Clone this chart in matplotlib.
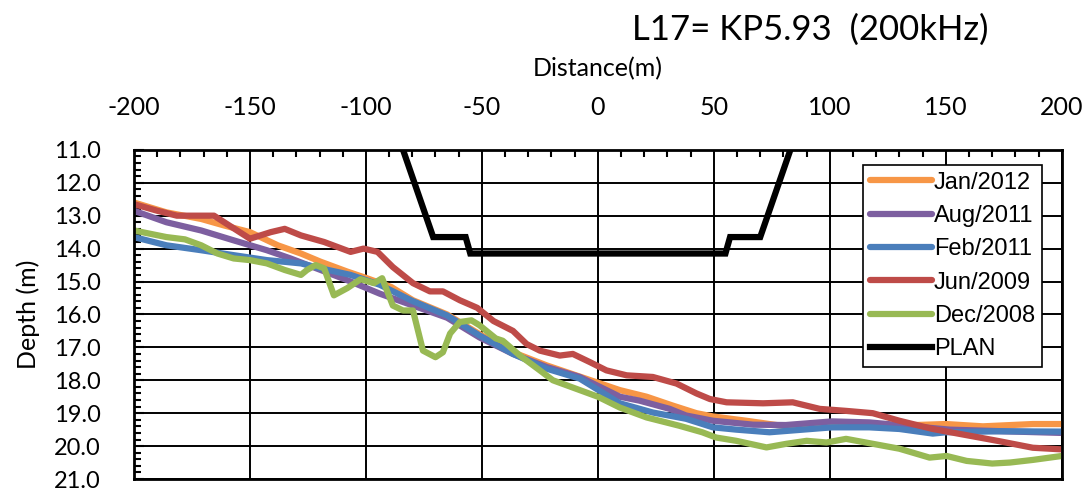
import matplotlib.pyplot as plt
from matplotlib.ticker import MultipleLocator, FormatStrFormatter

plt.rcParams['axes.unicode_minus'] = False

# survey profiles (distance m, depth m)
jan12_x = [-200, -186, -171, -161, -150, -138, -128, -119.5, -108, -99.6, -89, -79.7, -65, -51, -36.6, -22, -4.8,
           9.5, 21, 32.3, 42.5, 49.6, 64, 81, 100, 120, 150, 166, 187.5, 200]
jan12_y = [12.6, 12.9, 13.1, 13.3, 13.5, 13.9, 14.15, 14.4, 14.7, 14.9, 15.17, 15.57, 16.0, 16.6, 17.15, 17.55, 17.96,
           18.3, 18.5, 18.77, 19.0, 19.1, 19.23, 19.4, 19.4, 19.4, 19.33, 19.4, 19.33, 19.33]

aug11_x = [-200, -186, -171, -157, -142.7, -132.5, -119.5, -106.6, -94, -79.7, -65, -51, -36.6, -22, -7.8,
           9.5, 18, 31, 38, 49.6, 67, 81, 101, 117, 151.7, 175, 200]
aug11_y = [12.85, 13.2, 13.45, 13.75, 14.05, 14.3, 14.65, 15.0, 15.37, 15.73, 16.1, 16.7, 17.2, 17.6, 17.9,
           18.5, 18.62, 18.87, 19.07, 19.23, 19.35, 19.36, 19.25, 19.28, 19.5, 19.55, 19.6]

feb11_x = [-200, -186, -171, -157, -142.7, -128, -119.5, -106.6, -94, -79.7, -65, -51, -36.6, -22, -7.8,
           9.5, 23.7, 38, 49.6, 59.7, 74, 88.4, 101, 117, 130, 144.4, 150, 173, 200]
feb11_y = [13.65, 13.9, 14.05, 14.2, 14.35, 14.45, 14.6, 14.8, 15.1, 15.6, 16.03, 16.64, 17.2, 17.65, 17.95,
           18.7, 18.98, 19.17, 19.43, 19.5, 19.58, 19.5, 19.43, 19.43, 19.48, 19.62, 19.58, 19.55, 19.56]

jun09_x = [-200, -190, -181.5, -165.5, -150, -141, -135, -128, -118, -106.6, -101, -95, -88.4, -79.7, -72.4,
           -66.8, -59.5, -52, -45, -36.6, -30.7, -25, -16.4, -10.8, -3.4, 3.7, 12.4, 23.7, 33.9, 42.5, 48.3,
           55.5, 71.2, 84, 95.7, 107, 118.5, 130, 144.4, 156, 173, 187.5, 200]
jun09_y = [12.65, 12.85, 13.0, 13.0, 13.7, 13.5, 13.4, 13.6, 13.8, 14.1, 14.0, 14.1, 14.56, 15.05, 15.3,
           15.3, 15.57, 15.8, 16.2, 16.5, 16.9, 17.1, 17.25, 17.2, 17.45, 17.7, 17.85, 17.9, 18.1, 18.4, 18.57,
           18.67, 18.7, 18.67, 18.87, 18.93, 19.0, 19.23, 19.48, 19.63, 19.85, 20.05, 20.1]

dec08_x = [-200, -186, -178, -171, -164, -157, -150, -142.7, -135, -128, -125.4, -121.7, -118, -113.8, -108,
           -102.3, -96.5, -93, -88.4, -84, -79.7, -75.4, -70, -66.8, -63.7, -59.5, -54.5, -51, -44, -41, -33.6,
           -25, -19.4, 0, 9.5, 21, 35, 45, 51, 59.7, 72.7, 81.3, 90, 98.6, 107, 118.5, 130, 143, 150.3, 159,
           170, 177.6, 187.5, 200]
dec08_y = [13.45, 13.65, 13.72, 13.9, 14.15, 14.3, 14.35, 14.45, 14.65, 14.8, 14.65, 14.5, 14.6, 15.42, 15.2,
           14.93, 15.05, 14.9, 15.73, 15.88, 15.88, 17.1, 17.3, 17.15, 16.58, 16.23, 16.18, 16.33, 16.73, 16.8, 17.25,
           17.7, 18.0, 18.5, 18.83, 19.13, 19.38, 19.58, 19.74, 19.84, 20.04, 19.93, 19.84, 19.89, 19.78, 19.93, 20.08,
           20.35, 20.3, 20.45, 20.53, 20.5, 20.42, 20.3]

plan_x = [-84, -71, -57, -55, 55, 57, 70, 83]
plan_y = [11, 13.65, 13.65, 14.15, 14.15, 13.65, 13.65, 11]

series = [
    ("Jan/2012", jan12_x, jan12_y, "#F79646"),
    ("Aug/2011", aug11_x, aug11_y, "#7D5FA0"),
    ("Feb/2011", feb11_x, feb11_y, "#4A7EBB"),
    ("Jun/2009", jun09_x, jun09_y, "#BE4B48"),
    ("Dec/2008", dec08_x, dec08_y, "#98B954"),
]

calib = ["Lato", "DejaVu Sans"]

fig = plt.figure(figsize=(10.89, 4.95), dpi=100)
ax = fig.add_axes([0.123, 0.0323, 0.852, 0.665])

for name, xs, ys, c in series:
    ax.plot(xs, ys, color=c, lw=4.5, label=name, solid_joinstyle="round", solid_capstyle="round")
ax.plot(plan_x, plan_y, color="black", lw=4.5, label="PLAN", solid_joinstyle="miter")

ax.set_xlim(-200, 200)
ax.set_ylim(21, 11)
ax.xaxis.set_major_locator(MultipleLocator(50))
ax.xaxis.set_minor_locator(MultipleLocator(10))
ax.yaxis.set_major_locator(MultipleLocator(1))
ax.yaxis.set_minor_locator(MultipleLocator(0.2))
ax.yaxis.set_major_formatter(FormatStrFormatter("%.1f"))
ax.xaxis.tick_top()
ax.tick_params(axis="x", which="both", direction="in", top=True, bottom=False, pad=22)
ax.tick_params(axis="x", which="major", length=0)
ax.tick_params(axis="x", which="minor", length=5, width=1.5)
ax.tick_params(axis="y", which="both", direction="in", left=True, right=False, pad=24)
ax.tick_params(axis="y", which="major", length=7, width=1.5)
ax.tick_params(axis="y", which="minor", length=5, width=1.5)
for lab in ax.get_xticklabels():
    lab.set_fontfamily(calib)
    lab.set_fontsize(18)
for lab in ax.get_yticklabels():
    lab.set_fontfamily(calib)
    lab.set_fontsize(17)

ax.grid(True, which="major", color="black", lw=1.4)
for s in ax.spines.values():
    s.set_linewidth(2)
    s.set_color("black")

ax.set_ylabel("Depth (m)", fontsize=18, family=calib, labelpad=10)
fig.text(0.549, 0.862, "Distance(m)", ha="center", va="center", fontsize=18, family=calib)
fig.text(0.744, 0.94, "L17= KP5.93  (200kHz)", ha="center", va="center", fontsize=25, family=calib)

leg = ax.legend(loc="upper left", bbox_to_anchor=(0.786, 0.955), fontsize=17, frameon=True,
                fancybox=False, edgecolor="black", framealpha=1, handlelength=2.6,
                handletextpad=0.1, labelspacing=0.48, borderpad=0.3, borderaxespad=0)
leg.get_frame().set_linewidth(1.2)
for t in leg.get_texts():
    t.set_fontfamily(["Liberation Sans", "DejaVu Sans"])

fig.savefig("out.png", dpi=100)
